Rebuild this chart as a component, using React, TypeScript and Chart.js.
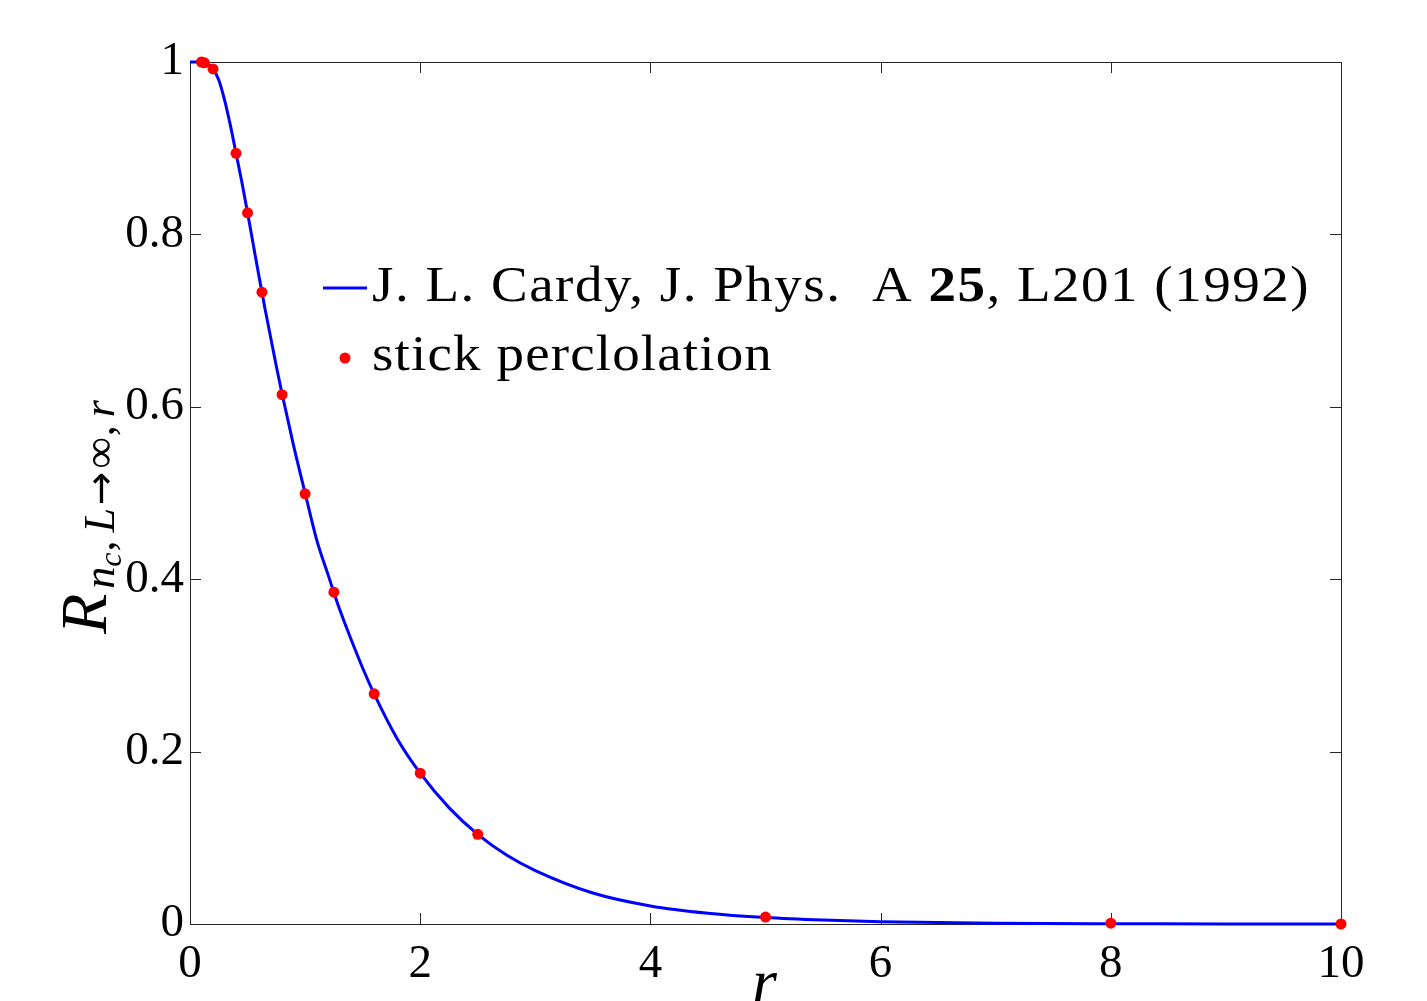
import React, { useEffect, useRef } from "react";
import { Chart, registerables } from "chart.js";

Chart.register(...registerables);

// ---- data ----
const curveR = [0, 0.05, 0.1, 0.15, 0.2, 0.25, 0.3, 0.35, 0.4, 0.45, 0.5, 0.55, 0.6, 0.65, 0.7, 0.75, 0.8, 0.9, 1.0, 1.1, 1.2, 1.3, 1.4, 1.5, 1.6, 1.8, 2.0, 2.25, 2.5, 2.75, 3.0, 3.5, 4.0, 4.5, 5.0, 5.5, 6.0, 7.0, 8.0, 9.0, 10.0];
const curveValue = [1.0, 1.0, 1.0, 0.9985, 0.992, 0.979, 0.956, 0.927, 0.894, 0.861, 0.825, 0.788, 0.751, 0.715, 0.681, 0.647, 0.615, 0.555, 0.5, 0.446, 0.405, 0.365, 0.33, 0.297, 0.267, 0.215, 0.175, 0.135, 0.104, 0.08, 0.062, 0.036, 0.021, 0.0125, 0.0075, 0.0045, 0.0026, 0.0009, 0.0003, 0.0001, 0.00003];

const stickR = [0.1, 0.125, 0.2, 0.4, 0.5, 0.625, 0.8, 1.0, 1.25, 1.6, 2.0, 2.5, 5, 8, 10];
const stickValue = [1.0, 0.999, 0.992, 0.894, 0.825, 0.733, 0.614, 0.499, 0.385, 0.267, 0.175, 0.104, 0.008, 0.001, 0.0];

const xTickValues = [0, 2, 4, 6, 8, 10];
const yTickValues = [0, 0.2, 0.4, 0.6, 0.8, 1];

const cardyPrefix = "J. L. Cardy, J. Phys.  A ";
const cardyBold = "25";
const cardySuffix = ", L201 (1992)";
const stickLabel = "stick perclolation";
const xTitle = "r";

const SERIF = '"Liberation Serif", "Times New Roman", serif';

const framePlugin = {
  id: "frame",
  beforeDatasetsDraw(chart: any) {
    const { ctx, chartArea: a, scales } = chart;
    ctx.save();
    ctx.strokeStyle = "#262626";
    ctx.lineWidth = 1;
    ctx.strokeRect(a.left + 0.5, a.top + 0.5, a.right - a.left, a.bottom - a.top);
    const tl = 11;
    ctx.beginPath();
    for (const v of xTickValues) {
      const px = Math.round(scales.x.getPixelForValue(v)) + 0.5;
      ctx.moveTo(px, a.bottom);
      ctx.lineTo(px, a.bottom - tl);
      ctx.moveTo(px, a.top);
      ctx.lineTo(px, a.top + tl);
    }
    for (const v of yTickValues) {
      const py = Math.round(scales.y.getPixelForValue(v)) + 0.5;
      ctx.moveTo(a.left, py);
      ctx.lineTo(a.left + tl, py);
      ctx.moveTo(a.right, py);
      ctx.lineTo(a.right - tl, py);
    }
    ctx.stroke();
    ctx.restore();
  },
};

const STRETCH = 1.1;

function drawRow(ctx: CanvasRenderingContext2D, segs: { t: string; f: string }[], x: number, y: number, targetW: number) {
  let w0 = 0;
  let n = 0;
  (ctx as any).letterSpacing = "0px";
  for (const s of segs) {
    ctx.font = s.f;
    w0 += ctx.measureText(s.t).width;
    n += s.t.length;
  }
  const ls = (targetW / STRETCH - w0) / n;
  ctx.save();
  ctx.translate(x, y);
  ctx.scale(STRETCH, 1);
  (ctx as any).letterSpacing = ls + "px";
  let cx = 0;
  for (const s of segs) {
    ctx.font = s.f;
    ctx.fillText(s.t, cx, 0);
    cx += ctx.measureText(s.t).width;
  }
  ctx.restore();
  (ctx as any).letterSpacing = "0px";
}

const textPlugin = {
  id: "texts",
  afterDraw(chart: any) {
    const { ctx, chartArea: a, scales } = chart;
    ctx.save();
    ctx.fillStyle = "#000";
    ctx.textBaseline = "alphabetic";
    ctx.textAlign = "left";

    // legend
    const lx = a.left + 133;
    ctx.strokeStyle = "#0000ff";
    ctx.lineWidth = 3;
    ctx.beginPath();
    ctx.moveTo(lx, 288);
    ctx.lineTo(lx + 44, 288);
    ctx.stroke();
    ctx.fillStyle = "#ff0000";
    ctx.beginPath();
    ctx.arc(lx + 22, 358, 5.5, 0, Math.PI * 2);
    ctx.fill();
    ctx.fillStyle = "#000";
    const f = "50px " + SERIF;
    const fb = "bold 50px " + SERIF;
    drawRow(ctx, [{ t: cardyPrefix, f }, { t: cardyBold, f: fb }, { t: cardySuffix, f }], lx + 49, 301, 938);
    drawRow(ctx, [{ t: stickLabel, f }], lx + 49, 370, 401);

    // x title
    ctx.font = "italic 64px " + SERIF;
    ctx.textAlign = "center";
    ctx.fillText(xTitle, scales.x.getPixelForValue(5) - 1, 1003);

    // y title (rotated, with subscripts)
    ctx.textAlign = "left";
    ctx.translate(106, 634);
    ctx.rotate(-Math.PI / 2);
    const segs = [
      { t: "R", f: "italic 66px " + SERIF, v: 0, gap: 5 },
      { t: "n", f: "italic 44px " + SERIF, v: 8, gap: 0 },
      { t: "c", f: "italic 32px " + SERIF, v: 15, gap: 1 },
      { t: ",", f: "44px " + SERIF, v: 8, gap: 8 },
      { t: "L", f: "italic 44px " + SERIF, v: 8, gap: 3 },
      { t: "\u2192", f: '40px "DejaVu Sans", sans-serif', v: 8, gap: 3 },
      { t: "\u221E", f: "44px " + SERIF, v: 8, gap: 1 },
      { t: ",", f: "44px " + SERIF, v: 8, gap: 8 },
      { t: "r", f: "italic 44px " + SERIF, v: 8, gap: 0 },
    ];
    let u = 0;
    for (const s of segs) {
      ctx.font = s.f;
      ctx.fillText(s.t, u, s.v);
      u += ctx.measureText(s.t).width + s.gap;
    }
    ctx.restore();
  },
};

export default function App() {
  const ref = useRef<HTMLCanvasElement | null>(null);
  useEffect(() => {
    document.body.style.margin = "0";
    const canvas = ref.current;
    if (!canvas) return;
    const chart = new Chart(canvas, {
      type: "scatter",
      data: {
        datasets: [
          {
            label: stickLabel,
            data: stickR.map((x, i) => ({ x, y: stickValue[i] })),
            showLine: false,
            pointRadius: 5.5,
            pointBackgroundColor: "#ff0000",
            pointBorderWidth: 0,
            borderColor: "#ff0000",
            clip: false,
          } as any,
          {
            label: "Cardy",
            data: curveR.map((x, i) => ({ x, y: curveValue[i] })),
            showLine: true,
            borderColor: "#0000ff",
            borderWidth: 3,
            pointRadius: 0,
            cubicInterpolationMode: "monotone",
            clip: 4,
          } as any,
        ],
      },
      options: {
        responsive: false,
        animation: false,
        layout: { padding: { top: 62, right: 86, left: 0, bottom: 0 } },
        plugins: { legend: { display: false }, tooltip: { enabled: false } },
        scales: {
          x: {
            type: "linear",
            min: 0,
            max: 10,
            grid: { display: false },
            border: { display: false },
            afterBuildTicks: (s: any) => {
              s.ticks = xTickValues.map((v) => ({ value: v }));
            },
            afterFit: (s: any) => {
              s.height = 77;
            },
            ticks: {
              color: "#000",
              padding: 4,
              maxRotation: 0,
              font: { family: SERIF, size: 47 },
              callback: (v: any) => String(v),
            },
          },
          y: {
            type: "linear",
            min: 0,
            max: 1,
            grid: { display: false },
            border: { display: false },
            afterBuildTicks: (s: any) => {
              s.ticks = yTickValues.map((v) => ({ value: v }));
            },
            afterFit: (s: any) => {
              s.width = 190;
            },
            ticks: {
              color: "#000",
              padding: -2,
              font: { family: SERIF, size: 47 },
              callback: (v: any) => String(v),
            },
          },
        },
      },
      plugins: [framePlugin, textPlugin],
    });
    return () => chart.destroy();
  }, []);
  return (
    <div style={{ width: 1427, height: 1001, background: "#fff" }}>
      <canvas ref={ref} width={1427} height={1001} style={{ display: "block" }} />
    </div>
  );
}
